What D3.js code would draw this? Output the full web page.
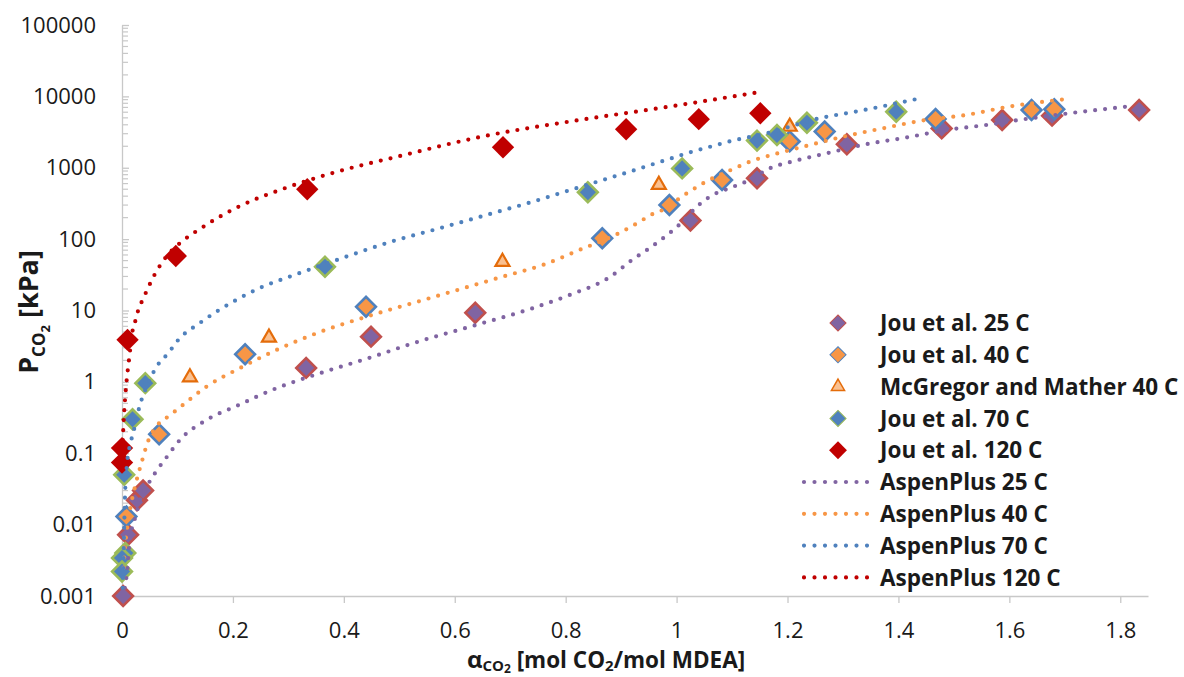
<!DOCTYPE html>
<html>
<head>
<meta charset="utf-8">
<script src="https://cdn.jsdelivr.net/npm/d3@7"></script>
<style>
body { margin: 0; background: #fff; }
text { font-family: "Open Sans", sans-serif; fill: #1a1a1a; }
</style>
</head>
<body>
<svg id="chart" width="1184" height="677"></svg>
<script>
// axis ticks
const xTicks = [0, 0.2, 0.4, 0.6, 0.8, 1, 1.2, 1.4, 1.6, 1.8];
const xTickLabels = ["0", "0.2", "0.4", "0.6", "0.8", "1", "1.2", "1.4", "1.6", "1.8"];
const yTicks = [0.001, 0.01, 0.1, 1, 10, 100, 1000, 10000, 100000];
const yTickLabels = ["0.001", "0.01", "0.1", "1", "10", "100", "1000", "10000", "100000"];

// experimental data [alpha, P (kPa)]
const jou25 = [[0.002, 0.001], [0.011, 0.0072], [0.027, 0.022], [0.038, 0.030], [0.332, 1.57], [0.449, 4.3],
  [0.637, 9.3], [1.025, 182], [1.145, 712], [1.307, 2140], [1.478, 3560], [1.587, 4660], [1.677, 5370], [1.834, 6440]];
const jou40 = [[0.008, 0.013], [0.067, 0.185], [0.222, 2.44], [0.44, 11.3], [0.866, 103], [0.987, 300],
  [1.082, 673], [1.204, 2340], [1.267, 3220], [1.467, 4810], [1.640, 6440], [1.681, 6600]];
const mcgregor40 = [[0.1225, 1.16], [0.265, 4.17], [0.686, 48], [0.968, 575], [1.204, 3760]];
const jou70 = [[0.006, 0.0040], [0.000, 0.0034], [0.000, 0.0022], [0.004, 0.050], [0.019, 0.30], [0.042, 0.96],
  [0.366, 41], [0.840, 454], [1.010, 980], [1.145, 2400], [1.181, 2880], [1.235, 4260], [1.396, 6100]];
const jou120 = [[0.000, 0.118], [0.000, 0.074], [0.010, 3.88], [0.097, 58], [0.334, 500], [0.687, 1940],
  [0.909, 3460], [1.040, 4790], [1.151, 5800]];

// AspenPlus model curves
const aspen25 = [[0.005, 0.0013], [0.010, 0.0025], [0.013, 0.005], [0.018, 0.009], [0.0246, 0.013], [0.0324, 0.022],
  [0.0445, 0.034], [0.0625, 0.057], [0.0805, 0.088], [0.1045, 0.154], [0.1526, 0.293], [0.2067, 0.46], [0.2787, 0.816],
  [0.3568, 1.32], [0.453, 2.26], [0.525, 3.48], [0.633, 6.1], [0.741, 10.8], [0.807, 16.5], [0.879, 29.2], [0.921, 52],
  [0.951, 74.6], [0.981, 111], [1.011, 176], [1.0355, 280], [1.065, 415], [1.095, 516], [1.1315, 674], [1.1645, 955],
  [1.2157, 1260], [1.27, 1590], [1.342, 2140], [1.414, 2650], [1.486, 3380], [1.558, 3970], [1.618, 4680],
  [1.708, 5800], [1.822, 7330]];
const aspen40 = [[0.003, 0.0025], [0.0055, 0.005], [0.0085, 0.008], [0.015, 0.017], [0.025, 0.038], [0.0355, 0.075],
  [0.0474, 0.15], [0.0625, 0.24], [0.0865, 0.34], [0.110, 0.476], [0.1526, 0.86], [0.2126, 1.56], [0.2787, 2.8],
  [0.3508, 4.8], [0.441, 8.2], [0.555, 14.9], [0.687, 29.9], [0.759, 43.5], [0.825, 70.6], [0.896, 121], [0.926, 162],
  [0.957, 225], [0.987, 285], [1.005, 373], [1.023, 462], [1.053, 639], [1.1045, 980], [1.1375, 1260], [1.174, 1530],
  [1.228, 1970], [1.30, 2720], [1.372, 3570], [1.45, 4680], [1.522, 5490], [1.594, 7060], [1.702, 9160]];
const aspen70 = [[0.001, 0.0013], [0.003, 0.004], [0.004, 0.0094], [0.0055, 0.026], [0.009, 0.07], [0.0144, 0.13],
  [0.020, 0.19], [0.0324, 0.476], [0.0474, 0.96], [0.0625, 1.64], [0.0834, 2.52], [0.1014, 3.87], [0.1405, 6.7],
  [0.2005, 13.3], [0.254, 21.6], [0.303, 29.9], [0.387, 51], [0.495, 97], [0.567, 138], [0.657, 218], [0.741, 335],
  [0.813, 500], [0.867, 674], [0.921, 910], [0.957, 1120], [0.99, 1350], [1.026, 1660], [1.0625, 1990], [1.0985, 2370],
  [1.162, 3030], [1.258, 4940], [1.33, 6260], [1.438, 9360]];
const aspen120 = [[0.000, 0.08], [0.003, 0.28], [0.0054, 0.56], [0.0085, 1.07], [0.0126, 2.03], [0.0193, 5.35],
  [0.0247, 7.4], [0.0294, 10.2], [0.0366, 13.8], [0.0445, 18.8], [0.0523, 25.4], [0.080, 57], [0.1076, 92],
  [0.1405, 139], [0.2067, 276], [0.29, 505], [0.38, 846], [0.501, 1460], [0.645, 2690], [0.825, 4670],
  [0.975, 6950], [1.153, 11600]];

const legendNames = ["Jou et al. 25 C", "Jou et al. 40 C", "McGregor and Mather 40 C", "Jou et al. 70 C",
  "Jou et al. 120 C", "AspenPlus 25 C", "AspenPlus 40 C", "AspenPlus 70 C", "AspenPlus 120 C"];

var svg = d3.select("#chart");
var plotLeft = 122, plotRight = 1148, plotTop = 25, plotBottom = 596;

var x = d3.scaleLinear().domain([0, 1.85]).range([plotLeft, plotRight]);
var y = d3.scaleLog().domain([0.001, 100000]).range([plotBottom, plotTop]);

// x axis
var xAxis = svg.append("g")
  .attr("transform", "translate(0," + plotBottom + ")")
  .call(d3.axisBottom(x).tickValues(xTicks).tickSizeInner(7).tickSizeOuter(0).tickPadding(19)
    .tickFormat(function(d, i) { return xTickLabels[i]; }));
xAxis.selectAll("line, path").attr("stroke", "#c8c8c8").attr("stroke-width", 1.3);
xAxis.selectAll("text").attr("font-size", 22).attr("fill", "#1a1a1a").attr("font-family", "Open Sans");

// y axis, ticks pointing inside
var yAxis = svg.append("g")
  .attr("transform", "translate(" + plotLeft + ",0)")
  .call(d3.axisLeft(y).tickValues(yTicks).tickSizeInner(-7).tickSizeOuter(0).tickPadding(26)
    .tickFormat(function(d, i) { return yTickLabels[i]; }));
yAxis.selectAll("line, path").attr("stroke", "#c8c8c8").attr("stroke-width", 1.3);
yAxis.selectAll("text").attr("font-size", 22).attr("fill", "#1a1a1a").attr("font-family", "Open Sans");

// minor log ticks
var minor = [];
yTicks.slice(0, -1).forEach(function(p) {
  for (var k = 2; k <= 9; k++) minor.push(p * k);
});
svg.append("g").selectAll("line").data(minor).join("line")
  .attr("x1", plotLeft).attr("x2", plotLeft + 6)
  .attr("y1", function(d) { return y(d); }).attr("y2", function(d) { return y(d); })
  .attr("stroke", "#c8c8c8").attr("stroke-width", 1.2);

// axis titles
var yTitle = svg.append("text")
  .attr("transform", "translate(38,312) rotate(-90)")
  .attr("text-anchor", "middle").attr("font-weight", "bold").attr("font-size", 27);
yTitle.append("tspan").text("P");
yTitle.append("tspan").attr("dy", 7).attr("font-size", 17).text("CO");
yTitle.append("tspan").attr("dy", 5).attr("font-size", 13).text("2");
yTitle.append("tspan").attr("dy", -12).text(" [kPa]");

var xTitle = svg.append("text")
  .attr("x", 606).attr("y", 668)
  .attr("text-anchor", "middle").attr("font-weight", "bold").attr("font-size", 22.5);
xTitle.append("tspan").attr("font-size", 24).text("α");
xTitle.append("tspan").attr("dy", 3).attr("font-size", 15).text("CO");
xTitle.append("tspan").attr("dy", 2).attr("font-size", 12).text("2");
xTitle.append("tspan").attr("dy", -5).text(" [mol CO");
xTitle.append("tspan").attr("dy", 3).attr("font-size", 15).text("2");
xTitle.append("tspan").attr("dy", -3).text("/mol MDEA]");

// marker series
var markerSeries = [
  {data: jou25, shape: "diamond", fill: "#8064A2", stroke: "#C0504D"},
  {data: jou40, shape: "diamond", fill: "#F79646", stroke: "#4F81BD"},
  {data: mcgregor40, shape: "triangle", fill: "#FAC090", stroke: "#E46C0A"},
  {data: jou70, shape: "diamond", fill: "#4F81BD", stroke: "#9BBB59"},
  {data: jou120, shape: "diamond", fill: "#C00000", stroke: "none"}
];
var lineSeries = [
  {data: aspen25, color: "#8064A2"},
  {data: aspen40, color: "#F79646"},
  {data: aspen70, color: "#4F81BD"},
  {data: aspen120, color: "#C00000"}
];

function markerPath(s, legend) {
  if (s.shape === "triangle") return d3.symbol().type(d3.symbolTriangle).size(legend ? 75 : 85)();
  var size = s.stroke === "none" ? 250 : 195;
  if (legend) size = s.stroke === "none" ? 160 : 130;
  return d3.symbol().type(d3.symbolSquare).size(size)();
}
function markerTransform(s) {
  return s.shape === "triangle" ? "" : " rotate(45)";
}

markerSeries.forEach(function(s) {
  svg.append("g").selectAll("path").data(s.data).join("path")
    .attr("d", markerPath(s, false))
    .attr("transform", function(d) { return "translate(" + x(d[0]) + "," + y(d[1]) + ")" + markerTransform(s); })
    .attr("fill", s.fill)
    .attr("stroke", s.stroke)
    .attr("stroke-width", s.shape === "triangle" ? 2.2 : 2.6)
    .attr("stroke-linejoin", "miter");
});

var line = d3.line()
  .x(function(d) { return x(d[0]); })
  .y(function(d) { return y(d[1]); })
  .curve(d3.curveMonotoneX);

lineSeries.forEach(function(s) {
  svg.append("path")
    .datum(s.data)
    .attr("fill", "none")
    .attr("stroke", s.color)
    .attr("stroke-width", 4.2)
    .attr("stroke-linecap", "round")
    .attr("stroke-dasharray", "0 10")
    .attr("d", line);
});

// legend
var legend = svg.append("g");
var rowY = function(i) { return 323 + i * 31.8; };
legendNames.forEach(function(name, i) {
  var ly = rowY(i);
  if (i < markerSeries.length) {
    var s = markerSeries[i];
    legend.append("path")
      .attr("d", markerPath(s, true))
      .attr("transform", "translate(838," + ly + ")" + markerTransform(s))
      .attr("fill", s.fill)
      .attr("stroke", s.stroke)
      .attr("stroke-width", s.shape === "triangle" ? 1.5 : 1);
  } else {
    var ls = lineSeries[i - markerSeries.length];
    legend.append("line")
      .attr("x1", 804).attr("x2", 868).attr("y1", ly).attr("y2", ly)
      .attr("stroke", ls.color).attr("stroke-width", 4.2)
      .attr("stroke-linecap", "round").attr("stroke-dasharray", "0 10.5");
  }
  legend.append("text")
    .attr("x", 880).attr("y", ly).attr("dy", "0.36em")
    .attr("font-size", 22.5).attr("font-weight", "bold")
    .text(name);
});
</script>
</body>
</html>
